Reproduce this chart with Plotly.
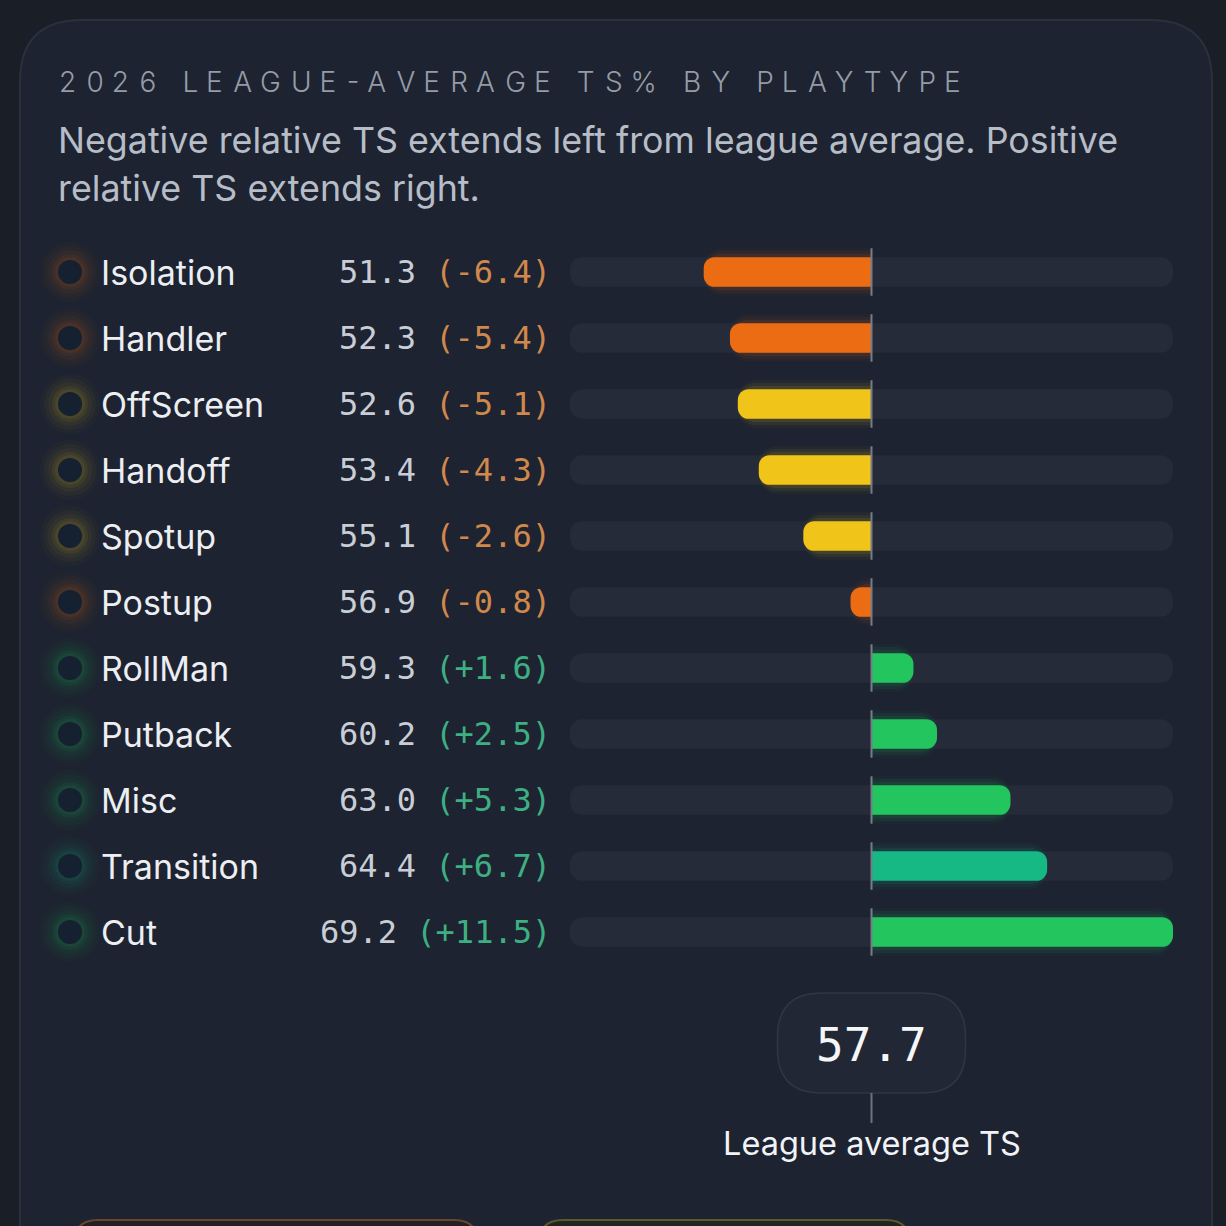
import plotly.graph_objects as go

# ---- data ----
playtypes = ['Isolation', 'Handler', 'OffScreen', 'Handoff', 'Spotup', 'Postup',
             'RollMan', 'Putback', 'Misc', 'Transition', 'Cut']
ts_pct = [51.3, 52.3, 52.6, 53.4, 55.1, 56.9, 59.3, 60.2, 63.0, 64.4, 69.2]
league_avg = 57.7
tiers = ['orange', 'orange', 'yellow', 'yellow', 'yellow', 'orange',
         'green', 'green', 'green', 'teal', 'green']

title_text = '2026 LEAGUE-AVERAGE TS% BY PLAYTYPE'
subtitle_lines = ['Negative relative TS extends left from league average. Positive',
                  'relative TS extends right.']
avg_label = 'League average TS'

rel_ts = [round(v - league_avg, 1) for v in ts_pct]

# ---- style ----
W, H = 1226, 1226
BG = '#1a1e27'
CARD = '#1d2330'
CARD_LINE = '#2a303d'
TRACK = '#252b38'
bar_rgb = {'orange': (236, 108, 20), 'yellow': (241, 196, 26),
           'green': (34, 197, 94), 'teal': (22, 184, 132)}
SANS = 'Inter, Roboto, sans-serif'
MONO = 'DejaVu Sans Mono, monospace'

n = len(playtypes)
lim = max(abs(v) for v in rel_ts)
track_px = (570, 1173)          # left/right pixel edges of the bar area
rows_px = (239, 965)            # top/bottom pixel edges of the row band


def rgba(tier, a):
    r, g, b = bar_rgb[tier]
    return f'rgba({r},{g},{b},{a})'


def px(x, y):
    return x / W, 1 - y / H


def rrect(x0, y0, x1, y1, r):
    pts = [
        ('M', [(x0 + r, y0)]), ('L', [(x1 - r, y0)]), ('Q', [(x1, y0), (x1, y0 + r)]),
        ('L', [(x1, y1 - r)]), ('Q', [(x1, y1), (x1 - r, y1)]), ('L', [(x0 + r, y1)]),
        ('Q', [(x0, y1), (x0, y1 - r)]), ('L', [(x0, y0 + r)]), ('Q', [(x0, y0), (x0 + r, y0)]),
    ]
    out = ''
    for cmd, pp in pts:
        out += cmd + ' '.join('%.5f,%.5f' % px(a, b) for a, b in pp) + ' '
    return out + 'Z'


fig = go.Figure()

# background track, split at the league average so both ends are rounded
for side in (-1, 1):
    fig.add_trace(go.Bar(
        x=[side * lim] * n, y=playtypes, orientation='h', width=0.45,
        marker=dict(color=TRACK, cornerradius=12, line=dict(width=0)),
        hoverinfo='skip', showlegend=False))

# soft glow behind each bar (own axis so it does not touch the rounding of the bars)
for w, a in [(0.72, 0.04), (0.64, 0.06), (0.55, 0.10)]:
    fig.add_trace(go.Bar(
        x=rel_ts, y=playtypes, orientation='h', width=w, yaxis='y2',
        marker=dict(color=[rgba(t, a) for t in tiers], cornerradius=18, line=dict(width=0)),
        hoverinfo='skip', showlegend=False))

# main bars
fig.add_trace(go.Bar(
    x=rel_ts, y=playtypes, orientation='h', width=0.45, yaxis='y3',
    marker=dict(color=[rgba(t, 1) for t in tiers], cornerradius=11, line=dict(width=0)),
    customdata=ts_pct,
    hovertemplate='%{y}<br>TS: %{customdata:.1f}<br>Rel: %{x:+.1f}<extra></extra>',
    showlegend=False))

# glowing dots next to the labels
dot_x = [70 / W] * n
for s, a in [(60, 0.025), (52, 0.035), (44, 0.045), (36, 0.06), (30, 0.08)]:
    fig.add_trace(go.Scatter(
        x=dot_x, y=playtypes, xaxis='x2', yaxis='y', mode='markers',
        marker=dict(size=s, color=[rgba(t, a) for t in tiers], line=dict(width=0)),
        hoverinfo='skip', showlegend=False, cliponaxis=False))
fig.add_trace(go.Scatter(
    x=dot_x, y=playtypes, xaxis='x2', yaxis='y', mode='markers',
    marker=dict(size=24, color='#152030', line=dict(width=0)),
    hoverinfo='skip', showlegend=False, cliponaxis=False))

shapes = []
# card
shapes.append(dict(type='path', xref='paper', yref='paper', layer='below',
                   path=rrect(20, 20, 1212, 1320, 62),
                   fillcolor=CARD, line=dict(color=CARD_LINE, width=2)))
# buttons peeking at the bottom
shapes.append(dict(type='path', xref='paper', yref='paper', layer='below',
                   path=rrect(74, 1220, 478, 1320, 24),
                   fillcolor='#241f22', line=dict(color='#6a4630', width=2)))
shapes.append(dict(type='path', xref='paper', yref='paper', layer='below',
                   path=rrect(539, 1220, 910, 1320, 24),
                   fillcolor='#22241f', line=dict(color='#5b5a2e', width=2)))

# league-average marker per row
for i, name in enumerate(playtypes):
    shapes.append(dict(type='line', xref='x', yref='y', layer='above',
                       x0=0, x1=0, y0=i - 0.36, y1=i + 0.36,
                       line=dict(color='#767c88', width=2)))

# pill with league average
cx = track_px[0] + (0 + lim) / (2 * lim) * (track_px[1] - track_px[0])
shapes.append(dict(type='path', xref='paper', yref='paper', layer='below',
                   path=rrect(cx - 94, 993, cx + 94, 1093, 44),
                   fillcolor='#212735', line=dict(color='#2f3645', width=1.5)))
x0p, y0p = px(cx, 1093)
_, y1p = px(cx, 1123)
shapes.append(dict(type='line', xref='paper', yref='paper', layer='below',
                   x0=x0p, x1=x0p, y0=y0p, y1=y1p,
                   line=dict(color='#6b7280', width=2)))

annotations = []
# letter-spaced heading
chars = [c if c != ' ' else '\u00a0' for c in title_text]
spaced = chars[0]
for k, c in enumerate(chars[1:]):
    spaced += ('\u00a0\u200a' if k % 2 == 0 else '\u00a0') + c
annotations.append(dict(xref='paper', yref='paper', x=57 / W, y=px(0, 82)[1],
                        xanchor='left', yanchor='middle', showarrow=False,
                        text=spaced,
                        font=dict(family=SANS, size=28, color='#959ca7', weight=300)))
for line, yy in zip(subtitle_lines, [140, 188]):
    annotations.append(dict(xref='paper', yref='paper', x=56 / W, y=px(0, yy)[1],
                            xanchor='left', yanchor='middle', showarrow=False,
                            text=line, font=dict(family=SANS, size=35.8, color='#b7bdc7')))

for name, ts, d in zip(playtypes, ts_pct, rel_ts):
    annotations.append(dict(xref='paper', yref='y', x=99 / W, y=name,
                            xanchor='left', yanchor='middle', showarrow=False,
                            text=name,
                            font=dict(family=SANS, size=34, color='#eceef2', weight=400)))
    dcol = '#d0884c' if d < 0 else '#3daf83'
    annotations.append(dict(xref='paper', yref='y', x=553 / W, y=name,
                            xanchor='right', yanchor='middle', showarrow=False,
                            text=f"{ts:.1f} <span style='color:{dcol}'>({d:+.1f})</span>",
                            font=dict(family=MONO, size=32, color='#c9ced6')))

annotations.append(dict(xref='paper', yref='paper', x=cx / W, y=px(0, 1045)[1],
                        xanchor='center', yanchor='middle', showarrow=False,
                        text=f'{league_avg:.1f}',
                        font=dict(family=MONO, size=46, color='#f4f6f8')))
annotations.append(dict(xref='paper', yref='paper', x=cx / W, y=px(0, 1143)[1],
                        xanchor='center', yanchor='middle', showarrow=False,
                        text=avg_label,
                        font=dict(family=SANS, size=32.5, color='#f1f3f6')))

ycat = dict(domain=[1 - rows_px[1] / H, 1 - rows_px[0] / H], range=[n - 0.5, -0.5],
            type='category', categoryorder='array', categoryarray=playtypes,
            visible=False, fixedrange=True)

fig.update_layout(
    width=W, height=H,
    margin=dict(l=0, r=0, t=0, b=0),
    paper_bgcolor=BG, plot_bgcolor='rgba(0,0,0,0)',
    barmode='overlay',
    xaxis=dict(domain=[track_px[0] / W, track_px[1] / W], range=[-lim, lim],
               anchor='y', visible=False, fixedrange=True),
    xaxis2=dict(domain=[0, 1], range=[0, 1], anchor='y', visible=False, fixedrange=True),
    yaxis=ycat,
    yaxis2=dict(ycat, overlaying='y', anchor='x'),
    yaxis3=dict(ycat, overlaying='y', anchor='x'),
    shapes=shapes,
    annotations=annotations,
    showlegend=False,
)

fig.write_html('out.html', config={'displayModeBar': False},
               post_script="document.body.style.margin='0';document.body.style.overflow='hidden';")
